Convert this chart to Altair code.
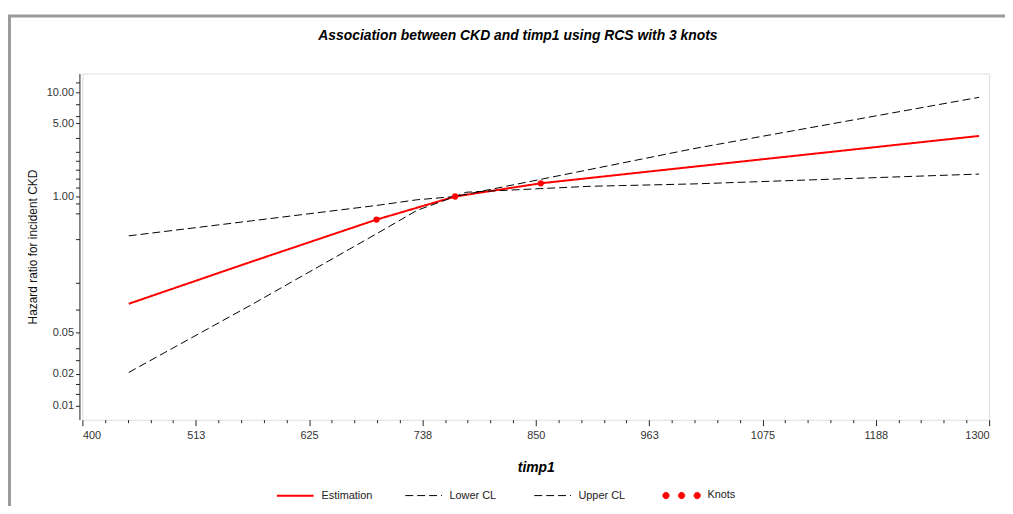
import altair as alt
import pandas as pd

# ---- data ----
series_names = ["Estimation", "Lower CL", "Upper CL", "Knots"]

x_est = [446, 568, 692, 770, 855, 1007, 1290]
hr_est = [0.094, 0.238, 0.601, 1.0, 1.338, 1.93, 3.80]

x_low = [446, 568, 692, 732, 770, 781, 855, 904, 935, 1007, 1290]
hr_low = [0.0207, 0.0922, 0.44, 0.736, 1.0, 1.099, 1.19, 1.253, 1.272, 1.32, 1.64]

x_up = [446, 568, 692, 732, 770, 1007, 1290]
hr_up = [0.42, 0.585, 0.821, 0.93, 1.0, 2.875, 8.9]

x_knots = [692, 770, 855]
hr_knots = [0.601, 1.0, 1.338]

x_major_ticks = [400, 512.5, 625, 737.5, 850, 962.5, 1075, 1187.5, 1300]
x_minor_ticks = [400 + 22.5 * i for i in range(41)]
y_major_ticks = [0.01, 0.02, 0.05, 1, 5, 10]
y_minor_ticks = [12.4, 7.64, 5.87, 3.66, 2.69, 2.2, 1.8, 1.48, 1.22,
                 0.858, 0.69, 0.391, 0.149, 0.0826, 0.035, 0.027, 0.016, 0.013]

title_text = "Association between CKD and timp1 using RCS with 3 knots"
x_title = "timp1"
y_title = "Hazard ratio for incident CKD"

# ---- tables ----
lines_df = pd.concat([
    pd.DataFrame({"x": x_est, "hr": hr_est, "series": "Estimation"}),
    pd.DataFrame({"x": x_low, "hr": hr_low, "series": "Lower CL"}),
    pd.DataFrame({"x": x_up, "hr": hr_up, "series": "Upper CL"}),
], ignore_index=True)
knots_df = pd.DataFrame({"x": x_knots, "hr": hr_knots, "series": "Knots"})

FONT = "Liberation Sans"
W, H = 914, 349

three_dots = ("M-1.02,0A0.17,0.17,0,1,0,-0.68,0A0.17,0.17,0,1,0,-1.02,0Z"
              "M-0.17,0A0.17,0.17,0,1,0,0.17,0A0.17,0.17,0,1,0,-0.17,0Z"
              "M0.68,0A0.17,0.17,0,1,0,1.02,0A0.17,0.17,0,1,0,0.68,0Z")

legend = alt.Legend(
    title=None, orient="none", legendX=195, legendY=406,
    direction="horizontal", symbolSize=1369, labelFont=FONT,
    labelFontSize=11, labelColor="#222", labelOffset=7,
    columnPadding=30, gridAlign="all", padding=0,
)

color_scale = alt.Scale(domain=series_names,
                        range=["#ff0000", "#000000", "#000000", "#ff0000"])
dash_scale = alt.Scale(domain=series_names,
                       range=[[1, 0], [8, 4], [8, 4], [1, 0]])
width_scale = alt.Scale(type="ordinal", domain=series_names, range=[2, 1, 1, 1])
shape_scale = alt.Scale(domain=series_names,
                        range=["stroke", "stroke", "stroke", three_dots])

x_major_test = "abs(datum.value - 400 - 112.5 * round((datum.value - 400) / 112.5)) < 0.01"
ymaj = "[" + ",".join(str(v) for v in y_major_ticks) + "]"

x_enc = alt.X(
    "x:Q",
    scale=alt.Scale(domain=[400, 1300], nice=False, zero=False),
    axis=alt.Axis(
        title=x_title, values=x_minor_ticks, tickCount=500,
        labelExpr=f"{x_major_test} ? format(datum.value, '.0f') : ''",
        tickSize={"condition": {"test": x_major_test, "value": 6}, "value": 3},
        domain=False, grid=False, tickColor="#222", labelColor="#333",
        labelFont=FONT, labelFontSize=11, labelPadding=4, labelOverlap=False,
        titleFont=FONT, titleFontSize=14, titleFontStyle="italic",
        titleFontWeight="bold", titleColor="#000", titlePadding=20,
    ),
)
y_enc = alt.Y(
    "hr:Q",
    scale=alt.Scale(type="log", domain=[0.0073, 15.06], nice=False),
    axis=alt.Axis(
        title=y_title, values=y_major_ticks + y_minor_ticks, tickCount=500,
        labelExpr=f"indexof({ymaj}, datum.value) >= 0 ? format(datum.value, '.2f') : ''",
        tickSize=4, offset=3, domain=True, domainColor="#222", grid=False,
        tickColor="#222", labelColor="#333", labelFont=FONT, labelFontSize=11,
        labelPadding=2, labelOverlap=False,
        titleFont=FONT, titleFontSize=12, titleFontWeight="normal",
        titleColor="#111", titlePadding=7,
    ),
)

lines = alt.Chart(lines_df).mark_line(clip=False).encode(
    x=x_enc, y=y_enc,
    color=alt.Color("series:N", scale=color_scale, legend=legend),
    strokeDash=alt.StrokeDash("series:N", scale=dash_scale, legend=legend),
    strokeWidth=alt.StrokeWidth("series:N", scale=width_scale, legend=legend),
    detail="series:N",
)

knots = alt.Chart(knots_df).mark_point(filled=True, shape="circle", size=40, opacity=1).encode(
    x="x:Q", y="hr:Q",
    color=alt.Color("series:N", scale=color_scale, legend=legend),
)

legend_only = alt.Chart(knots_df).transform_filter("false").mark_point(filled=True, opacity=1).encode(
    x="x:Q", y="hr:Q",
    color=alt.Color("series:N", scale=color_scale, legend=legend),
    shape=alt.Shape("series:N", scale=shape_scale, legend=legend),
)

frame_df = pd.DataFrame({"k": [0]})
frame_left = alt.Chart(frame_df).mark_rule(color="#9a9a9a", strokeWidth=3).encode(
    x=alt.value(-73.5), y=alt.value(-59), y2=alt.value(445))
frame_top = alt.Chart(frame_df).mark_rule(color="#9a9a9a", strokeWidth=3).encode(
    x=alt.value(-75), x2=alt.value(945), y=alt.value(-58))

chart = alt.layer(lines, knots, legend_only, frame_left, frame_top).properties(
    width=W, height=H,
    title=alt.TitleParams(
        title_text, font=FONT, fontSize=14, fontStyle="italic", fontWeight="bold",
        color="#000", anchor="middle", frame="group", dx=-18, offset=-44,
        baseline="bottom",
    ),
    autosize=alt.AutoSizeParams(type="none"),
    padding={"left": 75, "top": 64, "right": 16, "bottom": 85},
).configure_view(stroke=None).configure(background="white")

chart.save("out.html", embed_options={"renderer": "svg", "actions": False})
